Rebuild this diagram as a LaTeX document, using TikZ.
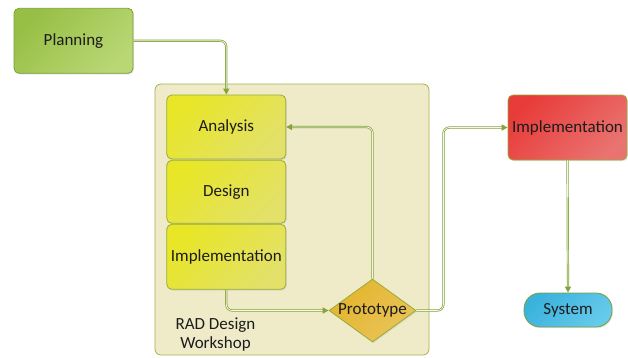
\documentclass[tikz,border=0pt]{standalone}
\usepackage{fontspec}
\setmainfont{Carlito}
\usetikzlibrary{shapes.geometric,arrows.meta,shadows}

\definecolor{lineGreen}{HTML}{86A23A}
\definecolor{lineCore}{HTML}{F4F6E8}
\definecolor{planDark}{HTML}{98BF45}
\definecolor{planLight}{HTML}{B9D775}
\definecolor{planEdge}{HTML}{7C9E36}
\definecolor{yelDark}{HTML}{E8E626}
\definecolor{yelLight}{HTML}{E3E16A}
\definecolor{yelEdge}{HTML}{98AC38}
\definecolor{wsFill}{HTML}{EFEBC9}
\definecolor{wsEdge}{HTML}{A2B24E}
\definecolor{redDark}{HTML}{E83C3A}
\definecolor{redLight}{HTML}{E97370}
\definecolor{protoDark}{HTML}{E4B42C}
\definecolor{protoLight}{HTML}{E9C459}
\definecolor{sysDark}{HTML}{3AB2DD}
\definecolor{sysLight}{HTML}{66CAEB}
\definecolor{ink}{HTML}{1C1C1C}

\tikzset{
  every node/.style={font=\fontsize{17}{19}\selectfont, text=ink},
  softshadow/.style={drop shadow={opacity=0.18, shadow xshift=1pt, shadow yshift=-1.2pt}},
  diag/.style 2 args={top color=#1, bottom color=#2, shading angle=45},
  stepbox/.style={rectangle, rounded corners=5pt, draw=#1, line width=0.8pt,
    softshadow, inner sep=0pt},
  planbox/.style={stepbox=planEdge, diag={planDark}{planLight}},
  yelbox/.style={stepbox=yelEdge, diag={yelDark}{yelLight}, minimum width=119pt},
  redbox/.style={stepbox=yelEdge, diag={redDark}{redLight}},
  protobox/.style={diamond, draw=yelEdge, line width=0.8pt, softshadow, inner sep=0pt,
    diag={protoDark}{protoLight},
    minimum width=87pt, minimum height=63pt, aspect=1.38},
  sysbox/.style={rectangle, rounded corners=16pt, draw=planEdge, line width=0.8pt,
    softshadow, inner sep=0pt, diag={sysDark}{sysLight},
    minimum width=88pt, minimum height=34pt},
  conn/.style={draw=lineGreen, line width=2.2pt, rounded corners=6pt,
    -{Triangle[length=6pt,width=6pt]},
    postaction={draw=lineCore, line width=0.8pt, -, shorten >=6pt}},
}

\begin{document}
\begin{tikzpicture}[x=1pt, y=-1pt]
  \useasboundingbox (0,0) rectangle (628,357);

  % workshop container
  \node[rectangle, rounded corners=6pt, draw=wsEdge, fill=wsFill, line width=0.8pt,
        minimum width=274pt, minimum height=271pt, inner sep=0pt]
        (ws) at (292,219.5) {};

  % boxes
  \node[planbox, minimum width=119pt, minimum height=65pt] (plan) at (73.5,40.8) {Planning};
  \node[yelbox, minimum height=64pt] (ana) at (226.3,127) {Analysis};
  \node[yelbox, minimum height=63pt] (des) at (226.3,191.8) {Design};
  \node[yelbox, minimum height=65pt] (imp) at (226.3,256.8) {Implementation};
  \node[protobox] (proto) at (372.5,310.5) {\makebox[0pt]{Prototype}};
  \node[redbox, minimum width=119pt, minimum height=65pt] (red) at (567.5,127.5) {Implementation};
  \node[sysbox] (sys) at (568,310) {System};

  \node[align=center, inner sep=0pt] (wslabel) at (215.5,335) {RAD Design\\Workshop};

  % connectors
  \draw[conn] (plan.east) -| (ana.north);
  \draw[conn] (proto.north) |- (ana.east);
  \draw[conn] (imp.south) |- (proto.west);
  \draw[conn] (proto.east) -- ++(27,0) |- (red.west);
  \draw[conn] (red.south) -- (sys.north);
\end{tikzpicture}
\end{document}
